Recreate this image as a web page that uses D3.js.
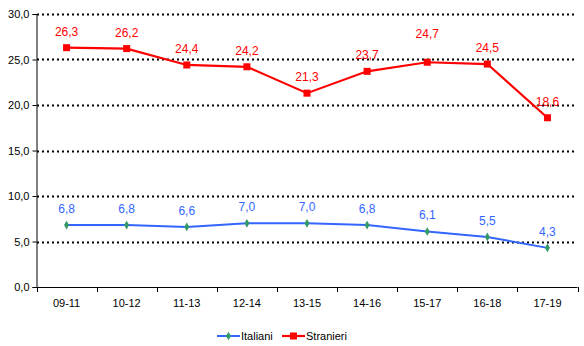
<!DOCTYPE html>
<html><head><meta charset="utf-8">
<script src="https://cdn.jsdelivr.net/npm/d3@7"></script>
<style>body{margin:0;background:#fff}svg{display:block}text{font-family:"Liberation Sans",Arial,sans-serif}</style>
</head><body><svg id="c" width="584" height="346"></svg>
<script>
const categories = ["09-11","10-12","11-13","12-14","13-15","14-16","15-17","16-18","17-19"];
const italiani = [6.8,6.8,6.6,7.0,7.0,6.8,6.1,5.5,4.3];
const stranieri = [26.3,26.2,24.4,24.2,21.3,23.7,24.7,24.5,18.6];
const yTicks = [0,5,10,15,20,25,30];
const seriesNames = ["Italiani","Stranieri"];

const svg = d3.select("#c");
const x = d3.scaleBand().domain(categories).range([36.5,577.5]);
const y = d3.scaleLinear().domain([0,30]).range([287,14]);
const fmt = v => d3.format(".1f")(v).replace(".",",");

// gridlines
svg.append("g").selectAll("line").data(yTicks.filter(d=>d>0)).join("line")
  .attr("x1",37).attr("x2",577).attr("y1",d=>Math.round(y(d))+0.5).attr("y2",d=>Math.round(y(d))+0.5)
  .attr("stroke","#000").attr("stroke-width",2).attr("stroke-dasharray","2,3");

// y axis
const ya = svg.append("g").attr("transform","translate(36.5,0)")
  .call(d3.axisLeft(y).tickValues(yTicks).tickFormat(fmt).tickSize(4).tickPadding(3));
ya.select(".domain").attr("stroke","#000");
ya.selectAll("text").attr("font-size",11).attr("fill","#000");

// x axis
const xa = svg.append("g").attr("transform","translate(0,287.5)")
  .call(d3.axisBottom(x).tickSize(0).tickPadding(12));
xa.select(".domain").attr("stroke","#000").attr("d","M36.5,0H577.5");
xa.selectAll("text").attr("font-size",11).attr("fill","#000");
svg.append("g").selectAll("line").data(categories.concat([null])).join("line")
  .attr("x1",(d,i)=>Math.round(x.range()[0]+i*x.step())+0.5)
  .attr("x2",(d,i)=>Math.round(x.range()[0]+i*x.step())+0.5)
  .attr("y1",287).attr("y2",292).attr("stroke","#000");

const cx = c => x(c)+x.bandwidth()/2;
const line = d3.line().x((d,i)=>cx(categories[i])).y(d=>y(d));

// Italiani
svg.append("path").datum(italiani).attr("d",line).attr("fill","none")
  .attr("stroke","#3366FF").attr("stroke-width",2);
svg.append("g").selectAll("path").data(italiani).join("path")
  .attr("d",d3.symbol(d3.symbolDiamond,22))
  .attr("transform",(d,i)=>`translate(${cx(categories[i])},${y(d)})`)
  .attr("fill","#339966");
svg.append("g").selectAll("text").data(italiani).join("text")
  .attr("x",(d,i)=>cx(categories[i])).attr("y",d=>y(d)-12)
  .attr("text-anchor","middle").attr("font-size",12).attr("fill","#3366FF").text(fmt);

// Stranieri
svg.append("path").datum(stranieri).attr("d",line).attr("fill","none")
  .attr("stroke","#FF0000").attr("stroke-width",2.2);
svg.append("g").selectAll("rect").data(stranieri).join("rect")
  .attr("x",(d,i)=>cx(categories[i])-3.5).attr("y",d=>y(d)-3.5)
  .attr("width",7).attr("height",7).attr("fill","#FF0000");
svg.append("g").selectAll("text").data(stranieri).join("text")
  .attr("x",(d,i)=>cx(categories[i])).attr("y",(d,i)=>y(d)-12-(i===6?12:0))
  .attr("text-anchor","middle").attr("font-size",12).attr("fill","#FF0000").text(fmt);

// legend
const lg = svg.append("g");
lg.append("line").attr("x1",217).attr("x2",240).attr("y1",336).attr("y2",336).attr("stroke","#3366FF").attr("stroke-width",2);
lg.append("path").attr("d",d3.symbol(d3.symbolDiamond,22)).attr("transform","translate(228.5,336)").attr("fill","#339966");
lg.append("text").attr("x",241).attr("y",340).attr("font-size",11).text(seriesNames[0]);
lg.append("line").attr("x1",282).attr("x2",305).attr("y1",336).attr("y2",336).attr("stroke","#FF0000").attr("stroke-width",2.2);
lg.append("rect").attr("x",290).attr("y",332.5).attr("width",7).attr("height",7).attr("fill","#FF0000");
lg.append("text").attr("x",306).attr("y",340).attr("font-size",11).text(seriesNames[1]);
</script></body></html>
